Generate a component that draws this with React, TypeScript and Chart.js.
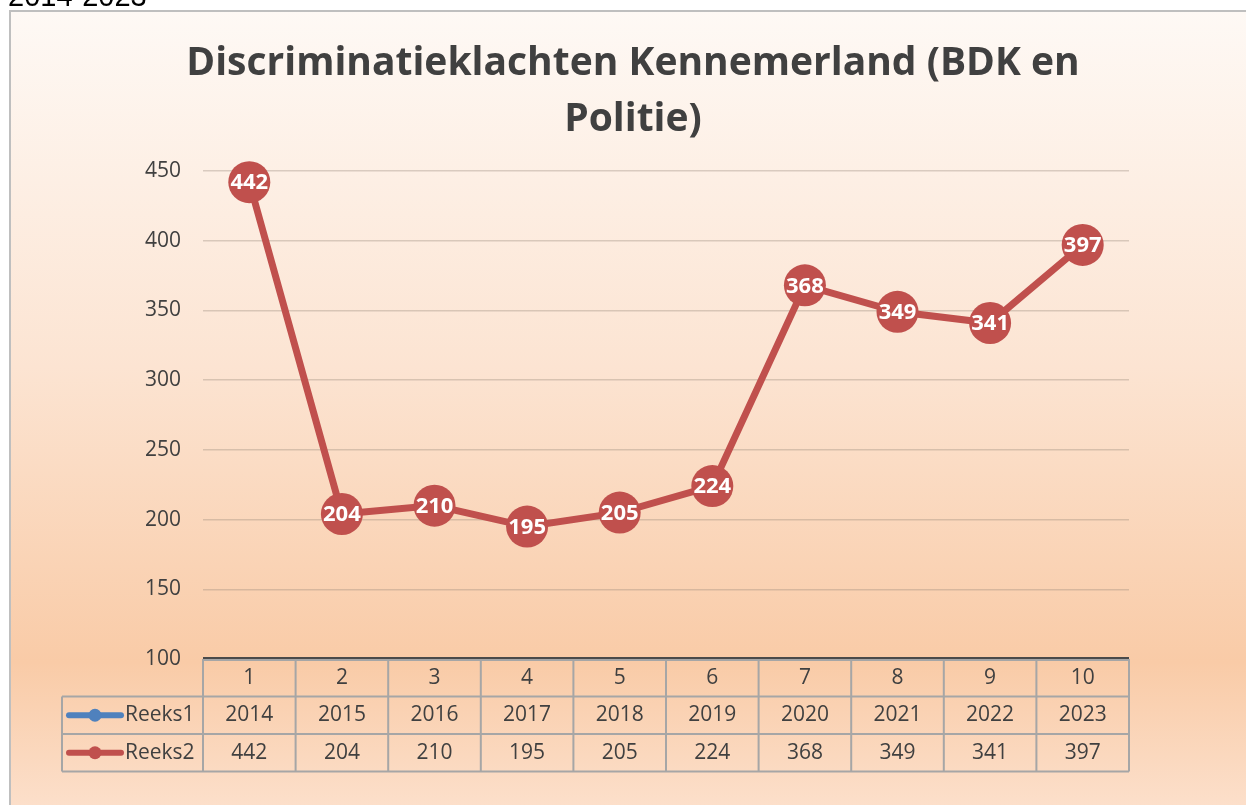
import React, { useEffect, useRef } from "react";
import { Chart, registerables } from "chart.js";

Chart.register(...registerables);

const headerText = "2014-2023";
const titleLines = ["Discriminatieklachten Kennemerland (BDK en", "Politie)"];
const categories = ["1", "2", "3", "4", "5", "6", "7", "8", "9", "10"];
const seriesNames = ["Reeks1", "Reeks2"];
const reeks1 = [2014, 2015, 2016, 2017, 2018, 2019, 2020, 2021, 2022, 2023];
const reeks2 = [442, 204, 210, 195, 205, 224, 368, 349, 341, 397];
const yMin = 100;
const yMax = 450;
const yStep = 50;

const seriesColors = ["#4f81bd", "#c0504d"];
const textColor = "#404040";
const FONT = "'Open Sans', 'DejaVu Sans', sans-serif";

const backgroundPlugin = {
  id: "bgPlugin",
  beforeDraw(chart: any) {
    const { ctx, width, height } = chart;
    ctx.save();
    ctx.fillStyle = "#ffffff";
    ctx.fillRect(0, 0, width, height);
    const g = ctx.createLinearGradient(0, 10, 0, height);
    g.addColorStop(0, "#fef9f5");
    g.addColorStop(0.45, "#fce4d2");
    g.addColorStop(0.82, "#f9cba7");
    g.addColorStop(1, "#fcdfca");
    ctx.fillStyle = g;
    ctx.fillRect(10, 11, width, height);
    ctx.strokeStyle = "#bfbfbf";
    ctx.lineWidth = 2;
    ctx.strokeRect(10, 11, width + 20, height + 20);
    ctx.fillStyle = "#000000";
    ctx.font = "29px 'Liberation Sans', Arial, sans-serif";
    ctx.textAlign = "left";
    ctx.textBaseline = "alphabetic";
    ctx.fillText(headerText, 8, 6);
    ctx.restore();
  },
};

const overlayPlugin = {
  id: "overlayPlugin",
  afterDatasetsDraw(chart: any) {
    const { ctx } = chart;
    const meta = chart.getDatasetMeta(1);
    ctx.save();
    ctx.fillStyle = "#ffffff";
    ctx.font = `bold 22px ${FONT}`;
    ctx.textAlign = "center";
    ctx.textBaseline = "middle";
    meta.data.forEach((pt: any, i: number) => {
      ctx.fillText(String(reeks2[i]), pt.x, pt.y + 1);
    });
    ctx.restore();
  },
  afterDraw(chart: any) {
    const { ctx, chartArea } = chart;
    const xs = chart.scales.x;
    ctx.save();
    // Title
    ctx.fillStyle = textColor;
    ctx.font = `bold 39px ${FONT}`;
    ctx.textAlign = "center";
    ctx.textBaseline = "middle";
    const cx = (chartArea.left + chartArea.right) / 2 - 33;
    ctx.fillText(titleLines[0], cx, 64);
    ctx.fillText(titleLines[1], cx, 120);

    // Data table
    const step = xs.getPixelForValue(1) - xs.getPixelForValue(0);
    const half = step / 2;
    const top = chartArea.bottom;
    const rowH = 37.5;
    const legendLeft = 62;
    const left = chartArea.left;
    const right = chartArea.right;

    ctx.strokeStyle = "#a6a6a6";
    ctx.lineWidth = 2;
    ctx.beginPath();
    ctx.moveTo(left, top + 1);
    ctx.lineTo(right, top + 1);
    for (let r = 1; r <= 3; r++) {
      ctx.moveTo(legendLeft, top + r * rowH);
      ctx.lineTo(right, top + r * rowH);
    }
    for (let i = 0; i < categories.length; i++) {
      const x = xs.getPixelForValue(i) - half;
      ctx.moveTo(x, top);
      ctx.lineTo(x, top + 3 * rowH);
    }
    ctx.moveTo(right, top);
    ctx.lineTo(right, top + 3 * rowH);
    ctx.moveTo(legendLeft, top + rowH);
    ctx.lineTo(legendLeft, top + 3 * rowH);
    ctx.stroke();

    // axis line
    ctx.strokeStyle = "#4a4a4a";
    ctx.lineWidth = 2;
    ctx.beginPath();
    ctx.moveTo(left, top - 1);
    ctx.lineTo(right, top - 1);
    ctx.stroke();

    ctx.fillStyle = textColor;
    ctx.font = `21px ${FONT}`;
    ctx.textAlign = "center";
    ctx.textBaseline = "middle";
    categories.forEach((c, i) => {
      const x = xs.getPixelForValue(i);
      ctx.fillText(c, x, top + rowH * 0.5);
      ctx.fillText(String(reeks1[i]), x, top + rowH * 1.5);
      ctx.fillText(String(reeks2[i]), x, top + rowH * 2.5);
    });

    // legend keys
    [reeks1, reeks2].forEach((_, s) => {
      const y = top + rowH * (1.5 + s);
      ctx.strokeStyle = seriesColors[s];
      ctx.lineWidth = 6;
      ctx.lineCap = "round";
      ctx.beginPath();
      ctx.moveTo(69, y);
      ctx.lineTo(121, y);
      ctx.stroke();
      ctx.fillStyle = seriesColors[s];
      ctx.beginPath();
      ctx.arc(95, y, 6.5, 0, Math.PI * 2);
      ctx.fill();
      ctx.fillStyle = textColor;
      ctx.textAlign = "left";
      ctx.fillText(seriesNames[s], 125, y);
    });
    ctx.restore();
  },
};

export default function App() {
  const ref = useRef<HTMLCanvasElement | null>(null);
  useEffect(() => {
    if (!ref.current) return;
    const chart = new Chart(ref.current, {
      type: "line",
      data: {
        labels: categories,
        datasets: [
          {
            label: seriesNames[0],
            data: reeks1,
            borderColor: seriesColors[0],
            backgroundColor: seriesColors[0],
            borderWidth: 7,
            pointRadius: 21,
          },
          {
            label: seriesNames[1],
            data: reeks2,
            borderColor: seriesColors[1],
            backgroundColor: seriesColors[1],
            borderWidth: 7,
            pointRadius: 21,
            pointBorderWidth: 0,
            pointHoverRadius: 21,
            clip: false as any,
          },
        ],
      },
      options: {
        animation: false,
        responsive: false,
        events: [],
        layout: { padding: { left: 0, right: 117, top: 171, bottom: 146 } },
        plugins: {
          legend: { display: false },
          title: { display: false },
          tooltip: { enabled: false },
        },
        scales: {
          x: {
            type: "category",
            offset: true,
            display: false,
          },
          y: {
            min: yMin,
            max: yMax,
            ticks: {
              stepSize: yStep,
              color: textColor,
              font: { family: FONT, size: 21 },
              padding: 22,
            },
            grid: {
              color: "rgba(150, 135, 120, 0.35)",
              lineWidth: 1.5,
              drawTicks: false,
            },
            border: { display: false },
            afterFit(scale: any) {
              scale.width = 203;
            },
          },
        },
      },
      plugins: [backgroundPlugin, overlayPlugin],
    });
    return () => chart.destroy();
  }, []);
  return (
    <div style={{ position: "absolute", left: 0, top: 0, width: 1246, height: 805 }}>
      <canvas ref={ref} width={1246} height={805} style={{ width: 1246, height: 805 }} />
    </div>
  );
}
